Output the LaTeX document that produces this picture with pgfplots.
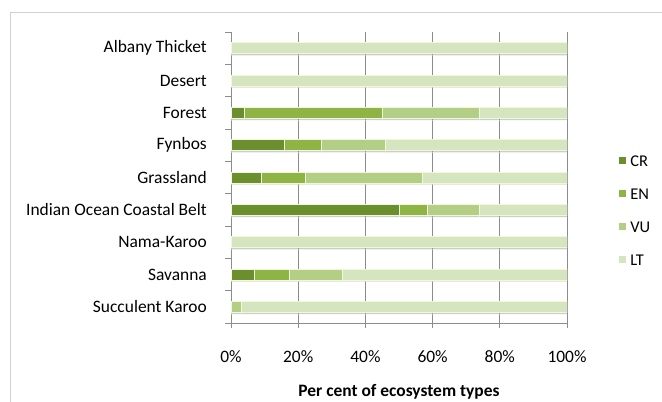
\documentclass[border=0pt]{standalone}
\usepackage{fontspec}
\setmainfont{Carlito}
\usepackage{pgfplots}
\pgfplotsset{compat=1.18}
\usetikzlibrary{shadows}
\definecolor{cCR}{HTML}{6B8F2F}
\definecolor{cEN}{HTML}{8DB444}
\definecolor{cVU}{HTML}{B3CF86}
\definecolor{cLT}{HTML}{D5E5C0}
\definecolor{sep}{HTML}{F2F7D8}
\definecolor{gridc}{HTML}{8C8C8C}
\definecolor{framec}{HTML}{D0D0D0}
\definecolor{shadowc}{HTML}{8A8FA8}
\begin{document}
\begin{tikzpicture}
\useasboundingbox (0bp,0bp) rectangle (662bp,402bp);
\draw[color=framec, line width=1bp] (10.5bp,-2bp) -- (10.5bp,389.5bp) -- (664bp,389.5bp);
\begin{axis}[
  at={(231bp,79bp)}, anchor=south west,
  scale only axis, width=336bp, height=291bp,
  xbar stacked, bar width=11bp,
  xmin=0, xmax=100, ymin=-0.5, ymax=8.5, y dir=reverse,
  axis x line*=bottom, axis y line*=left,
  axis line style={color=gridc, line width=0.8bp},
  ytick={0,...,8},
  yticklabels={Albany Thicket, Desert, Forest, Fynbos, Grassland, Indian Ocean Coastal Belt, Nama-Karoo, Savanna, Succulent Karoo},
  ytick style={draw=none},
  yticklabel style={font=\fontsize{17.5}{20}\selectfont, inner sep=0pt, anchor=east, xshift=-19bp},
  extra y ticks={-0.5,0.5,...,8.5},
  extra y tick labels={},
  extra y tick style={ytick style={draw=gridc, line width=0.8bp}, major tick length=6bp, tick align=outside, grid=none},
  xtick={0,20,...,100},
  xticklabel={\pgfmathprintnumber{\tick}\%},
  /pgf/number format/assume math mode=true,
  xticklabel style={font=\fontsize{17.5}{20}\selectfont, inner sep=0pt, anchor=north, yshift=-22bp},
  xtick style={draw=gridc, line width=0.8bp},
  major tick length=5bp, tick align=outside,
  xmajorgrids, major grid style={draw=gridc, line width=0.8bp},
  xlabel={\bfseries Per cent of ecosystem types},
  xlabel style={font=\fontsize{17.5}{20}\selectfont, at={(axis description cs:0.5,0)}, anchor=center, yshift=-69bp},
  legend style={at={(1.155,0.388)}, anchor=west, draw=none, fill=none,
    font=\fontsize{16.5}{18}\selectfont, row sep=22bp, inner sep=0pt,
    nodes={inner sep=0pt, anchor=west, text height=11bp, text depth=0pt},
    /tikz/every odd column/.style={column sep=4bp}},
  legend cell align=left,
  legend image code/.code={\fill[#1,draw=none] (0bp,-3.5bp) rectangle (7bp,3.5bp);},
  barstyle/.style={draw=sep, line width=0.7bp, forget plot,
    drop shadow={shadow xshift=0bp, shadow yshift=-1.6bp, opacity=0.45, fill=shadowc}},
]
\addplot[barstyle, fill=cCR] coordinates {(0,0) (0,1) (4,2) (16,3) (9,4) (50,5) (0,6) (7,7) (0,8)};
\addplot[barstyle, fill=cEN] coordinates {(0,0) (0,1) (41,2) (11,3) (13,4) (8.5,5) (0,6) (10.5,7) (0,8)};
\addplot[barstyle, fill=cVU] coordinates {(0,0) (0,1) (29,2) (19,3) (35,4) (15.5,5) (0,6) (15.5,7) (3,8)};
\addplot[barstyle, fill=cLT] coordinates {(100,0) (100,1) (26,2) (54,3) (43,4) (26,5) (100,6) (67,7) (97,8)};
\addlegendimage{fill=cCR}
\addlegendentry{CR}
\addlegendimage{fill=cEN}
\addlegendentry{EN}
\addlegendimage{fill=cVU}
\addlegendentry{VU}
\addlegendimage{fill=cLT}
\addlegendentry{LT}
\end{axis}
\end{tikzpicture}
\end{document}
